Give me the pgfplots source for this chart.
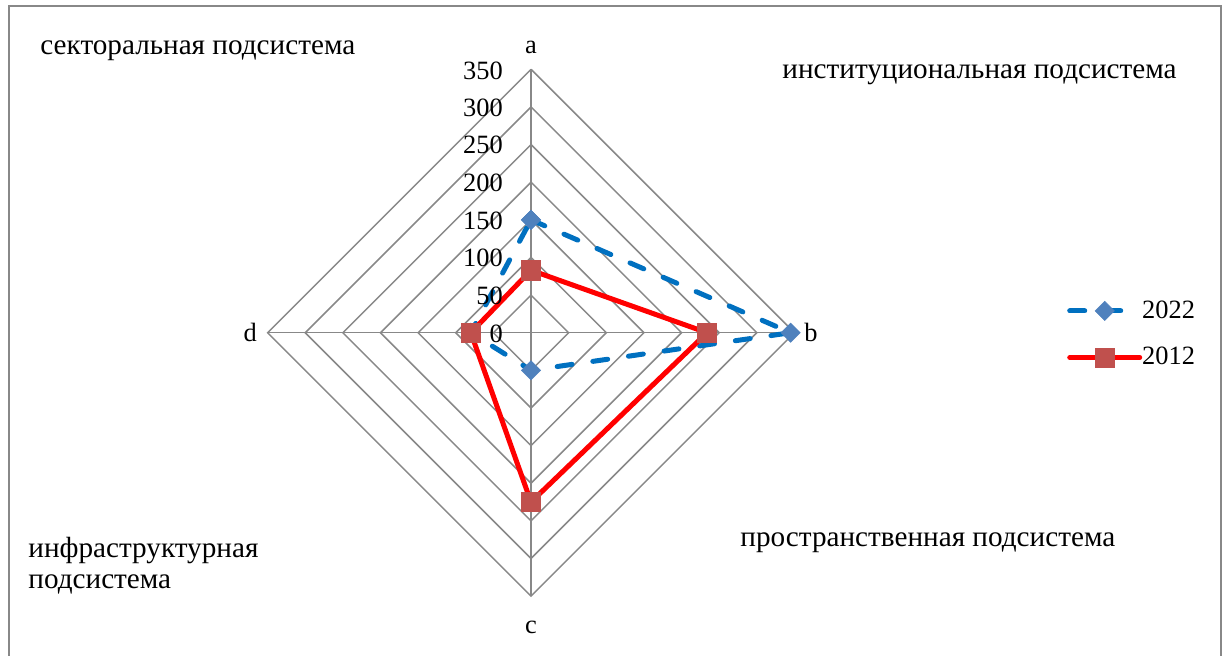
\documentclass[border=0pt]{standalone}
\usepackage{fontspec}
\setmainfont{Liberation Serif}
\usepackage{pgfplots}
\pgfplotsset{compat=1.18}
\definecolor{gridc}{HTML}{888888}
\definecolor{blueline}{HTML}{0070C0}
\definecolor{bluemark}{HTML}{4F81BD}
\definecolor{redline}{HTML}{FF0000}
\definecolor{redmark}{HTML}{C0504D}
\definecolor{framec}{HTML}{888888}
\newcommand{\tf}{\fontsize{13.2}{15}\selectfont}
\newcommand{\lf}{\fontsize{14.6}{16}\selectfont}
\begin{document}
\begin{tikzpicture}
\begin{axis}[
  at={(265.5pt,161.15pt)}, anchor=center,
  width=263.4pt, height=263.4pt, scale only axis,
  xmin=-350, xmax=350, ymin=-350, ymax=350,
  hide axis, clip=false,
  legend style={at={(axis cs:712,-2)}, anchor=west, draw=none, fill=none,
    font=\tf, row sep=9pt, inner sep=0pt,
    nodes={inner xsep=0pt}},
  legend cell align=left,
  legend image code/.code={%
    \draw[mark repeat=2,mark phase=2,#1] plot coordinates {(0pt,0pt)(17.5pt,0pt)(35pt,0pt)};},
]
% grid
\addplot[gridc, line width=0.75pt, forget plot] coordinates {(0,50)(50,0)(0,-50)(-50,0)(0,50)};
\addplot[gridc, line width=0.75pt, forget plot] coordinates {(0,100)(100,0)(0,-100)(-100,0)(0,100)};
\addplot[gridc, line width=0.75pt, forget plot] coordinates {(0,150)(150,0)(0,-150)(-150,0)(0,150)};
\addplot[gridc, line width=0.75pt, forget plot] coordinates {(0,200)(200,0)(0,-200)(-200,0)(0,200)};
\addplot[gridc, line width=0.75pt, forget plot] coordinates {(0,250)(250,0)(0,-250)(-250,0)(0,250)};
\addplot[gridc, line width=0.75pt, forget plot] coordinates {(0,300)(300,0)(0,-300)(-300,0)(0,300)};
\addplot[gridc, line width=0.75pt, forget plot] coordinates {(0,350)(350,0)(0,-350)(-350,0)(0,350)};
\addplot[gridc, line width=0.75pt, forget plot] coordinates {(0,-350)(0,350)};
\addplot[gridc, line width=0.75pt, forget plot] coordinates {(-350,0)(350,0)};
% series 2022: a, b, c, d
\addplot[blueline, line width=2.5pt, line cap=round, dash pattern=on 7.5pt off 10.5pt,
  mark=square*, mark size=3.4pt,
  mark options={solid, rotate=45, fill=bluemark, draw=bluemark, line width=0.3pt}]
  coordinates {(0,150)(345,0)(0,-50)(-80,0)(0,150)};
\addlegendentry{2022}
% series 2012
\addplot[redline, line width=2.5pt, line cap=round,
  mark=square*, mark size=4.8pt,
  mark options={solid, fill=redmark, draw=redmark, line width=0.3pt}]
  coordinates {(0,83)(234,0)(0,-225)(-80,0)(0,83)};
\addlegendentry{2012}
% scale labels
\node[anchor=east, font=\tf, inner sep=0pt] at (axis cs:-37,-1) {0};
\node[anchor=east, font=\tf, inner sep=0pt] at (axis cs:-37,49) {50};
\node[anchor=east, font=\tf, inner sep=0pt] at (axis cs:-37,99) {100};
\node[anchor=east, font=\tf, inner sep=0pt] at (axis cs:-37,149) {150};
\node[anchor=east, font=\tf, inner sep=0pt] at (axis cs:-37,199) {200};
\node[anchor=east, font=\tf, inner sep=0pt] at (axis cs:-37,249) {250};
\node[anchor=east, font=\tf, inner sep=0pt] at (axis cs:-37,299) {300};
\node[anchor=east, font=\tf, inner sep=0pt] at (axis cs:-37,348) {350};
% axis names
\node[font=\tf, inner sep=0pt] at (axis cs:0,379) {a};
\node[font=\tf, inner sep=0pt] at (axis cs:372,0) {b};
\node[font=\tf, inner sep=0pt] at (axis cs:0,-392) {c};
\node[font=\tf, inner sep=0pt] at (axis cs:-373,0) {d};
\end{axis}
% subsystem labels
\node[anchor=base west, font=\lf, inner sep=0pt] at (20pt,300pt) {секторальная подсистема};
\node[anchor=base west, font=\lf, inner sep=0pt] at (391pt,288pt) {институциональная подсистема};
\node[anchor=base west, font=\lf, inner sep=0pt] at (370pt,54.5pt) {пространственная подсистема};
\node[anchor=base west, font=\lf, inner sep=0pt] at (14pt,49pt) {инфраструктурная};
\node[anchor=base west, font=\lf, inner sep=0pt] at (14pt,33.5pt) {подсистема};
% frame
\draw[framec, line width=1.25pt] (4.5pt,-5pt) -- (4.5pt,324.5pt) -- (610.5pt,324.5pt) -- (610.5pt,-5pt);
\pgfresetboundingbox
\useasboundingbox (0,0) rectangle (612pt,327.5pt);
\end{tikzpicture}
\end{document}
